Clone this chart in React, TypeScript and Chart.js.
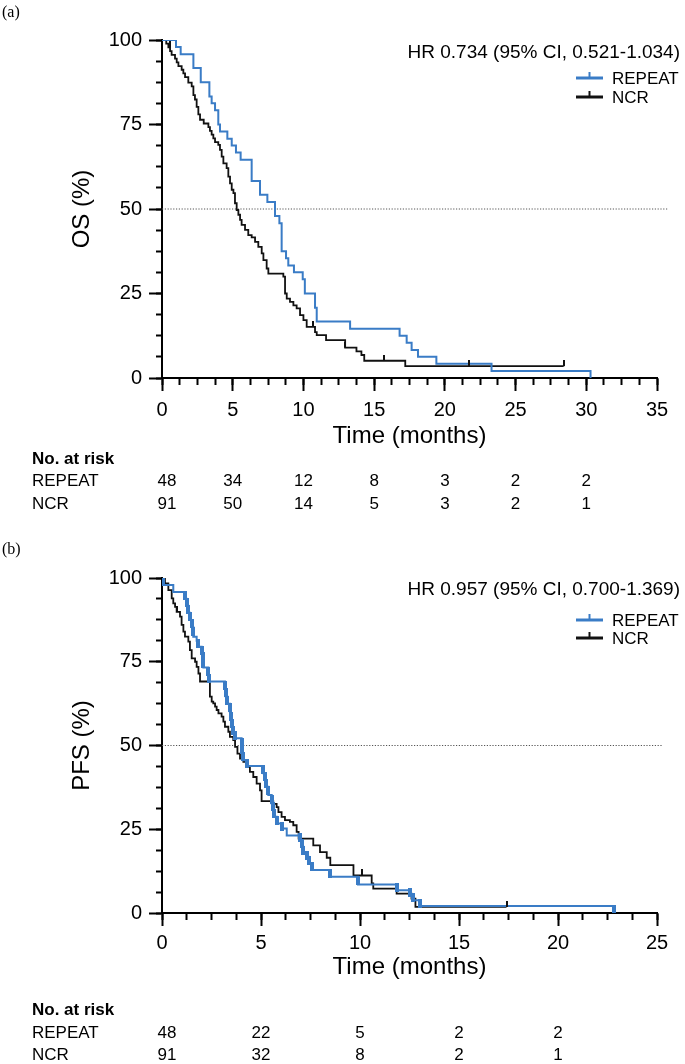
import React, { useEffect, useRef } from "react";
import { Chart, registerables } from "chart.js";

Chart.register(...registerables);

type Pt = [number, number];

const FONT = "'Liberation Sans', Arial, sans-serif";
const SERIF = "'Liberation Serif', 'Times New Roman', serif";
const BLUE = "#3a7cc6";
const BLACK = "#111111";

// ---------- data ----------
const seriesNames = ["REPEAT", "NCR"];

const osXMax = 35;
const pfsXMax = 25;

// Overall survival (%), Kaplan–Meier steps [months, survival]
const osRepeat: Pt[] = [
  [0, 100], [0.99, 97.9], [1.32, 95.8], [2.22, 91.7], [2.74, 87.5], [3.35, 83.3],
  [3.51, 81.3], [3.75, 79.2], [3.98, 75.0], [4.1, 72.9], [4.62, 70.8], [4.93, 68.8],
  [5.23, 66.7], [5.56, 64.6], [6.34, 58.3], [6.93, 54.2], [7.45, 52.1], [7.99, 47.9],
  [8.3, 45.8], [8.46, 37.5], [8.77, 35.4], [8.93, 33.3], [9.33, 31.3], [9.95, 29.2],
  [10.1, 25.0], [10.82, 20.8], [10.94, 16.7], [13.3, 14.6], [16.8, 12.5], [17.3, 10.4],
  [17.65, 8.3], [18.1, 6.3], [19.4, 4.2], [23.3, 2.1], [30.3, 0],
];

const osNcr: Pt[] = [
  [0, 100], [0.3, 98.9], [0.45, 97.8], [0.57, 96.7], [0.68, 95.6], [0.92, 94.5],
  [1.04, 93.4], [1.16, 92.3], [1.39, 91.2], [1.51, 90.1], [1.63, 89.0], [1.86, 87.4],
  [2.1, 86.3], [2.22, 83.7], [2.33, 82.4], [2.45, 80.2], [2.57, 78.0], [2.69, 76.4],
  [2.95, 75.3], [3.28, 74.2], [3.39, 73.1], [3.51, 72.0], [3.63, 70.9], [3.75, 69.8],
  [3.98, 69.0], [4.1, 67.5], [4.22, 65.5], [4.34, 63.5], [4.57, 62.1], [4.69, 59.6],
  [4.81, 57.6], [4.93, 55.7], [5.05, 54.7], [5.16, 51.7], [5.28, 49.7], [5.4, 48.3],
  [5.52, 46.8], [5.63, 45.3], [5.87, 43.8], [6.1, 42.3], [6.34, 41.6], [6.58, 40.3],
  [6.81, 38.8], [7.05, 36.9], [7.17, 34.9], [7.4, 32.4], [7.52, 30.9], [8.58, 30.0],
  [8.7, 25.0], [8.82, 23.5], [9.05, 22.5], [9.29, 21.5], [9.52, 20.6], [9.76, 18.6],
  [10.0, 17.1], [10.23, 15.1], [10.82, 13.6], [10.94, 12.7], [11.6, 11.2], [12.95, 9.0],
  [13.75, 7.9], [14.1, 6.8], [14.3, 5.1], [17.2, 3.5], [28.4, 3.5],
];

const osRepeatCensor: number[] = [];
const osNcrCensor: number[] = [0.55, 10.7, 12.95, 15.7, 21.7, 28.4];

// Progression-free survival (%)
const pfsRepeat: Pt[] = [
  [0, 100], [0.05, 97.9], [0.57, 95.8], [1.16, 93.8], [1.24, 91.7], [1.33, 89.6],
  [1.41, 87.5], [1.5, 85.4], [1.58, 82.5], [1.75, 81.3], [1.84, 79.5], [2.0, 77.5],
  [2.05, 75.4], [2.09, 73.3], [2.34, 71.0], [2.38, 69.1], [3.18, 66.8], [3.22, 64.6],
  [3.3, 62.5], [3.43, 60.0], [3.47, 57.6], [3.52, 55.5], [3.6, 53.6], [3.69, 52.2],
  [4.02, 49.8], [4.06, 47.6], [4.11, 45.6], [4.28, 43.9], [5.12, 41.7], [5.2, 39.6],
  [5.26, 37.7], [5.37, 35.2], [5.54, 32.7], [5.6, 30.7], [5.66, 28.7], [5.79, 26.7],
  [6.04, 25.2], [6.3, 23.1], [6.97, 21.8], [7.05, 19.8], [7.14, 17.8], [7.31, 16.8],
  [7.4, 14.8], [7.56, 12.8], [8.48, 10.8], [9.9, 8.5], [11.85, 6.8], [12.53, 5.3],
  [12.7, 3.8], [13.05, 2.1], [22.85, 0],
];

const pfsNcr: Pt[] = [
  [0, 100], [0.15, 98.4], [0.32, 96.4], [0.49, 93.9], [0.57, 92.4], [0.66, 91.4],
  [0.74, 89.9], [0.91, 88.5], [0.99, 86.0], [1.08, 84.0], [1.16, 82.5], [1.33, 81.0],
  [1.41, 78.5], [1.5, 76.0], [1.67, 75.0], [1.75, 73.5], [1.84, 71.5], [1.92, 69.1],
  [2.42, 64.6], [2.51, 63.1], [2.59, 62.6], [2.68, 61.6], [2.76, 60.6], [2.85, 59.6],
  [3.01, 58.6], [3.1, 57.1], [3.18, 55.6], [3.35, 54.1], [3.43, 52.6], [3.6, 51.6],
  [3.69, 49.6], [3.81, 47.6], [3.94, 46.1], [4.11, 45.1], [4.28, 43.6], [4.44, 42.1],
  [4.61, 40.6], [4.78, 38.6], [4.95, 36.6], [5.03, 33.4], [5.62, 32.6], [5.79, 31.6],
  [5.88, 30.1], [6.04, 28.7], [6.21, 27.7], [6.46, 27.2], [6.63, 26.2], [6.8, 24.2],
  [6.9, 22.2], [7.64, 20.2], [7.98, 18.2], [8.32, 16.5], [8.5, 14.3], [9.67, 11.2],
  [10.59, 8.8], [10.67, 7.3], [11.85, 5.8], [12.6, 4.3], [12.8, 1.8], [17.4, 1.8],
];

// times where REPEAT PFS has dense (thick) censor marks
const pfsRepeatCensor: number[] = [
  0.05, 1.16, 1.24, 1.33, 1.41, 1.5, 1.58, 1.84, 2.0, 2.05, 2.09, 2.34, 2.38,
  3.18, 3.22, 3.3, 3.43, 3.47, 3.52, 3.6, 3.69, 4.02, 4.06, 4.11, 4.28,
  5.12, 5.2, 5.26, 5.37, 5.54, 5.6, 5.66, 5.79, 6.04, 6.97, 7.05, 7.14, 7.31,
  7.4, 7.56, 8.48, 9.9, 11.85, 12.53, 12.7, 13.05, 22.85,
];
const pfsNcrCensor: number[] = [0.74, 10.09, 17.4];

const osHR = "HR 0.734 (95% CI, 0.521-1.034)";
const pfsHR = "HR 0.957 (95% CI, 0.700-1.369)";

const osRiskTimes = [0, 5, 10, 15, 20, 25, 30];
const osRiskRepeat = [48, 34, 12, 8, 3, 2, 2];
const osRiskNcr = [91, 50, 14, 5, 3, 2, 1];

const pfsRiskTimes = [0, 5, 10, 15, 20];
const pfsRiskRepeat = [48, 22, 5, 2, 2];
const pfsRiskNcr = [91, 32, 8, 2, 1];

// ---------- helpers ----------
function levelAt(steps: Pt[], t: number): number {
  let y = steps[0][1];
  for (const [x, v] of steps) {
    if (x <= t + 1e-9) y = v;
    else break;
  }
  return y;
}
function dropMid(steps: Pt[], t: number): number {
  const i = steps.findIndex((p) => Math.abs(p[0] - t) < 1e-9);
  if (i <= 0) return levelAt(steps, t);
  return (steps[i - 1][1] + steps[i][1]) / 2;
}
function markImage(color: string, w: number, h: number, upperHalf: boolean) {
  const c = document.createElement("canvas");
  c.width = w;
  c.height = h;
  const g = c.getContext("2d")!;
  g.fillStyle = color;
  g.fillRect(0, 0, w, upperHalf ? h / 2 : h);
  return c;
}

interface PanelCfg {
  tag: string;
  yTitle: string;
  xMax: number;
  dotEnd: number;
  hr: string;
  repeat: Pt[];
  ncr: Pt[];
  repeatCensor: number[];
  ncrCensor: number[];
  thickRepeat: boolean;
  riskTimes: number[];
  riskRepeat: number[];
  riskNcr: number[];
  padTop: number;
  padBottom: number;
  xAxisH: number;
  tickPad: number;
  tagY: number;
  hrY: number;
  legY: [number, number];
  riskY: [number, number, number];
}

const W = 685;
const H = 532;

function buildChart(canvas: HTMLCanvasElement, cfg: PanelCfg) {
  const blackTick = markImage(BLACK, 2, 12, true);
  const blueTick = cfg.thickRepeat ? markImage(BLUE, 4, 9, false) : markImage(BLUE, 2, 12, true);

  const repeatMarks = cfg.repeatCensor.map((t) => ({
    x: t,
    y: cfg.thickRepeat ? dropMid(cfg.repeat, t) : levelAt(cfg.repeat, t),
  }));
  const ncrMarks = cfg.ncrCensor.map((t) => ({ x: t, y: levelAt(cfg.ncr, t) }));

  const annot = {
    id: "annot",
    afterDraw(chart: any) {
      const ctx: CanvasRenderingContext2D = chart.ctx;
      const xs = chart.scales.x;
      ctx.save();
      ctx.fillStyle = "#000";
      ctx.textBaseline = "middle";
      ctx.textAlign = "left";
      ctx.font = `16px ${SERIF}`;
      ctx.fillText(cfg.tag, 2, cfg.tagY);

      ctx.font = `19px ${FONT}`;
      ctx.textAlign = "right";
      ctx.fillText(cfg.hr, 680, cfg.hrY);

      const colors = [BLUE, BLACK];
      seriesNames.forEach((name, i) => {
        const y = cfg.legY[i];
        ctx.strokeStyle = colors[i];
        ctx.lineWidth = 3;
        ctx.beginPath();
        ctx.moveTo(576, y);
        ctx.lineTo(603, y);
        ctx.stroke();
        ctx.lineWidth = 2;
        ctx.beginPath();
        ctx.moveTo(589.5, y);
        ctx.lineTo(589.5, y - 6);
        ctx.stroke();
        ctx.fillStyle = "#000";
        ctx.textAlign = "left";
        ctx.font = `17px ${FONT}`;
        ctx.fillText(name, 612, y + 1);
      });

      ctx.textAlign = "left";
      ctx.font = `bold 17px ${FONT}`;
      ctx.fillText("No. at risk", 32, cfg.riskY[0]);
      ctx.font = `17px ${FONT}`;
      ctx.fillText(seriesNames[0], 32, cfg.riskY[1]);
      ctx.fillText(seriesNames[1], 32, cfg.riskY[2]);
      ctx.textAlign = "center";
      cfg.riskTimes.forEach((t, i) => {
        const px = xs.getPixelForValue(t) + (i === 0 ? 5 : 0);
        ctx.fillText(String(cfg.riskRepeat[i]), px, cfg.riskY[1]);
        ctx.fillText(String(cfg.riskNcr[i]), px, cfg.riskY[2]);
      });
      ctx.restore();
    },
  };

  const tickFont = { family: FONT, size: 20 };
  const titleFont = { family: FONT, size: 24 };

  return new Chart(canvas, {
    type: "line",
    data: {
      datasets: [
        {
          type: "scatter",
          label: "REPEAT censored",
          data: repeatMarks,
          pointStyle: blueTick as any,
          pointRadius: 3,
          order: 0,
        } as any,
        {
          type: "scatter",
          label: "NCR censored",
          data: ncrMarks,
          pointStyle: blackTick as any,
          pointRadius: 3,
          order: 1,
        } as any,
        {
          label: "REPEAT",
          data: cfg.repeat.map(([x, y]) => ({ x, y })),
          borderColor: BLUE,
          borderWidth: 2,
          stepped: "before",
          pointRadius: 0,
          fill: false,
          order: 2,
        },
        {
          label: "NCR",
          data: cfg.ncr.map(([x, y]) => ({ x, y })),
          borderColor: BLACK,
          borderWidth: 1.8,
          stepped: "before",
          pointRadius: 0,
          fill: false,
          order: 3,
        },
        {
          label: "median",
          data: [
            { x: 0, y: 50 },
            { x: cfg.dotEnd, y: 50 },
          ],
          borderColor: "#555",
          borderWidth: 1,
          borderDash: [1.2, 1.6],
          pointRadius: 0,
          fill: false,
          clip: false as any,
          order: 4,
        },
      ],
    },
    options: {
      responsive: false,
      animation: false,
      devicePixelRatio: 1,
      events: [],
      layout: { padding: { left: 0, right: W - 657, top: cfg.padTop, bottom: cfg.padBottom } },
      plugins: { legend: { display: false }, tooltip: { enabled: false }, title: { display: false } },
      scales: {
        x: {
          type: "linear",
          position: "bottom",
          min: 0,
          max: cfg.xMax,
          weight: 1,
          ticks: { stepSize: 5, autoSkip: false, maxRotation: 0, color: "#000", font: tickFont, padding: cfg.tickPad },
          grid: { drawOnChartArea: false, drawTicks: true, tickLength: 13, tickWidth: 2, tickColor: "#000" },
          border: { display: true, color: "#000", width: 2 },
          title: { display: true, text: "Time (months)", color: "#000", font: titleFont, padding: { top: 0, bottom: 0 } },
          afterFit: (s: any) => {
            s.height = cfg.xAxisH;
          },
        },
        xMinor: {
          type: "linear",
          position: "bottom",
          min: 0,
          max: cfg.xMax,
          weight: 0,
          ticks: { display: false, stepSize: 1.25 },
          grid: { drawOnChartArea: false, drawTicks: true, tickLength: 7, tickWidth: 2, tickColor: "#000" },
          border: { display: false },
          afterFit: (s: any) => {
            s.height = 0;
          },
        },
        y: {
          type: "linear",
          position: "left",
          min: 0,
          max: 100,
          weight: 1,
          ticks: { stepSize: 25, color: "#000", font: tickFont, padding: 7 },
          grid: { drawOnChartArea: false, drawTicks: true, tickLength: 13, tickWidth: 2, tickColor: "#000" },
          border: { display: true, color: "#000", width: 2 },
          title: { display: true, text: cfg.yTitle, color: "#000", font: titleFont, padding: { top: 67.6, bottom: 0 } },
          afterFit: (s: any) => {
            s.width = 162;
          },
        },
        yMinor: {
          type: "linear",
          position: "left",
          min: 0,
          max: 100,
          weight: 0,
          ticks: { display: false, stepSize: 6.25 },
          grid: { drawOnChartArea: false, drawTicks: true, tickLength: 6, tickWidth: 2, tickColor: "#000" },
          border: { display: false },
          afterFit: (s: any) => {
            s.width = 0;
          },
        },
      } as any,
    },
    plugins: [annot],
  } as any);
}

const osCfg: PanelCfg = {
  tag: "(a)",
  yTitle: "OS (%)",
  xMax: osXMax,
  dotEnd: 35.8,
  hr: osHR,
  repeat: osRepeat,
  ncr: osNcr,
  repeatCensor: osRepeatCensor,
  ncrCensor: osNcrCensor,
  thickRepeat: false,
  riskTimes: osRiskTimes,
  riskRepeat: osRiskRepeat,
  riskNcr: osRiskNcr,
  padTop: 40,
  padBottom: 81.6,
  xAxisH: 72.4,
  tickPad: 7,
  tagY: 13,
  hrY: 53,
  legY: [78, 97],
  riskY: [459, 481, 504],
};

const pfsCfg: PanelCfg = {
  tag: "(b)",
  yTitle: "PFS (%)",
  xMax: pfsXMax,
  dotEnd: 25.25,
  hr: pfsHR,
  repeat: pfsRepeat,
  ncr: pfsNcr,
  repeatCensor: pfsRepeatCensor,
  ncrCensor: pfsNcrCensor,
  thickRepeat: true,
  riskTimes: pfsRiskTimes,
  riskRepeat: pfsRiskRepeat,
  riskNcr: pfsRiskNcr,
  padTop: 46,
  padBottom: 82.6,
  xAxisH: 68.4,
  tickPad: 5,
  tagY: 18,
  hrY: 58,
  legY: [88, 106],
  riskY: [478, 501, 523],
};

function Panel({ cfg, top }: { cfg: PanelCfg; top: number }) {
  const ref = useRef<HTMLCanvasElement>(null);
  useEffect(() => {
    if (!ref.current) return;
    const chart = buildChart(ref.current, cfg);
    return () => chart.destroy();
  }, [cfg]);
  return (
    <canvas
      ref={ref}
      width={W}
      height={H}
      style={{ position: "absolute", left: 0, top, width: W, height: H, display: "block" }}
    />
  );
}

export default function App() {
  return (
    <div style={{ position: "absolute", left: 0, top: 0, width: W, height: 1064, background: "#fff" }}>
      <Panel cfg={osCfg} top={0} />
      <Panel cfg={pfsCfg} top={H} />
    </div>
  );
}
